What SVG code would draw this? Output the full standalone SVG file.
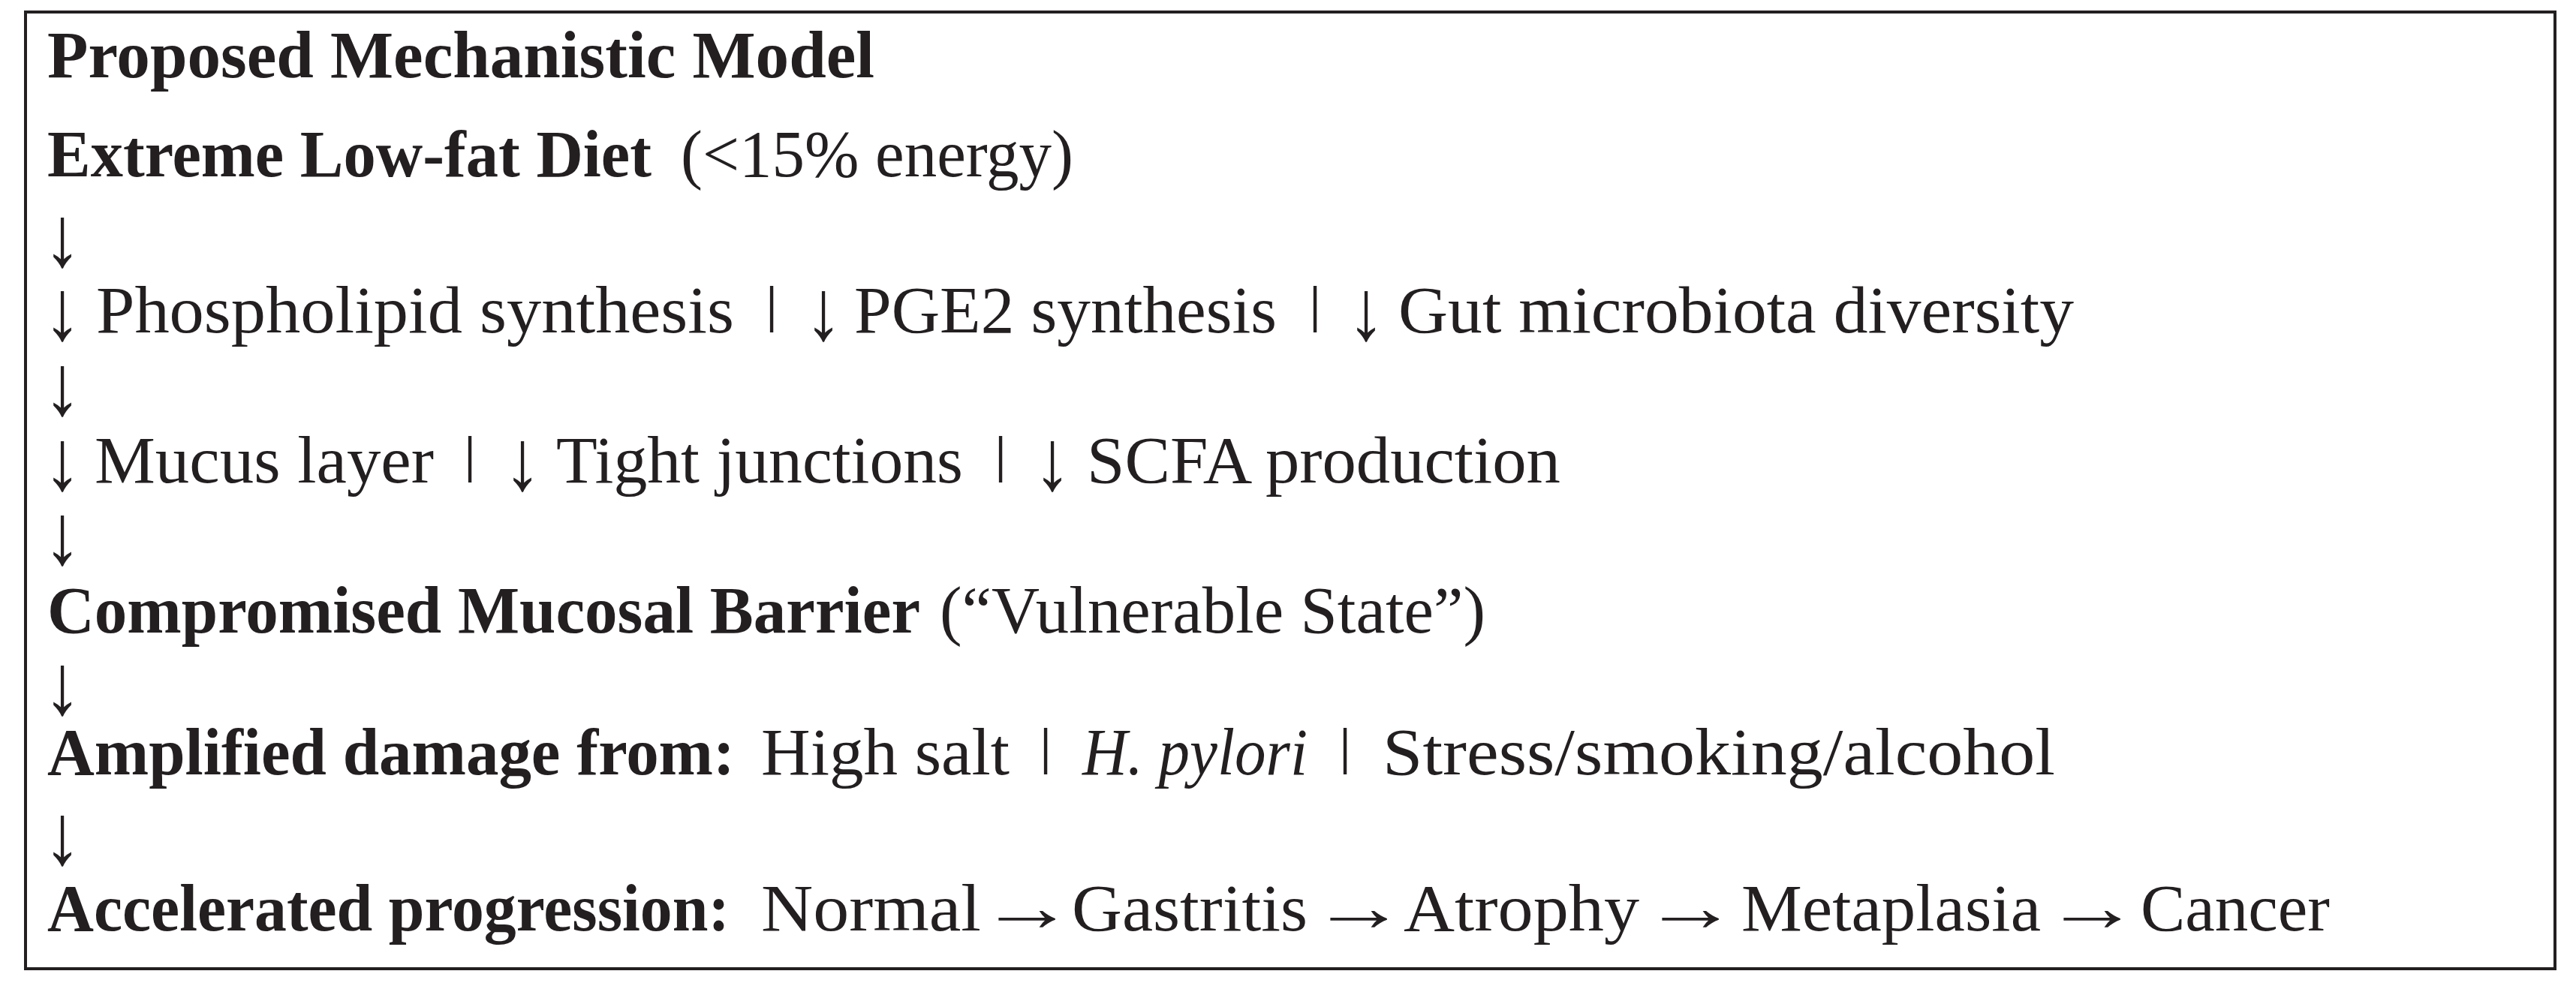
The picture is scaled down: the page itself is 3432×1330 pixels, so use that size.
<svg xmlns="http://www.w3.org/2000/svg" width="3432" height="1330" viewBox="0 0 3432 1330">
<style>
text{font-family:"Liberation Serif","Times New Roman",serif;font-size:88px;fill:#231f20}
.b{font-weight:bold}
.i{font-style:italic}
.s{text-anchor:middle}
</style>
<rect x="0" y="0" width="3432" height="1330" fill="#ffffff"/>
<rect id="frame" x="34" y="16" width="3370" height="1275" fill="none" stroke="#231f20" stroke-width="4"/>
<g id="title"><text class="b" x="63" y="103" textLength="1102" lengthAdjust="spacingAndGlyphs">Proposed Mechanistic Model</text></g>
<g id="diet">
<text class="b" x="63" y="235" textLength="805" lengthAdjust="spacingAndGlyphs">Extreme Low-fat Diet</text>
<text x="907" y="235" textLength="523" lengthAdjust="spacingAndGlyphs">(&lt;15% energy)</text>
</g>
<g id="synthesis">
<text class="s" transform="translate(83,452) scale(1.15,1.3)">↓</text>
<text x="128" y="443" textLength="850" lengthAdjust="spacingAndGlyphs">Phospholipid synthesis</text>
<text class="s" transform="translate(1028,429) scale(1,0.76)">|</text>
<text class="s" transform="translate(1097,452) scale(1.15,1.3)">↓</text>
<text x="1138" y="443" textLength="563" lengthAdjust="spacingAndGlyphs">PGE2 synthesis</text>
<text class="s" transform="translate(1752,429) scale(1,0.76)">|</text>
<text class="s" transform="translate(1820,452) scale(1.15,1.3)">↓</text>
<text x="1863" y="443" textLength="900" lengthAdjust="spacingAndGlyphs">Gut microbiota diversity</text>
</g>
<g id="barrier-parts">
<text class="s" transform="translate(83,652) scale(1.15,1.3)">↓</text>
<text x="126" y="643" textLength="452" lengthAdjust="spacingAndGlyphs">Mucus layer</text>
<text class="s" transform="translate(626,629) scale(1,0.76)">|</text>
<text class="s" transform="translate(696,652) scale(1.15,1.3)">↓</text>
<text x="741" y="643" textLength="542" lengthAdjust="spacingAndGlyphs">Tight junctions</text>
<text class="s" transform="translate(1333,629) scale(1,0.76)">|</text>
<text class="s" transform="translate(1402,652) scale(1.15,1.3)">↓</text>
<text x="1448" y="643" textLength="631" lengthAdjust="spacingAndGlyphs">SCFA production</text>
</g>
<g id="compromised">
<text class="b" x="63" y="843" textLength="1163" lengthAdjust="spacingAndGlyphs">Compromised Mucosal Barrier</text>
<text x="1252" y="843" textLength="727" lengthAdjust="spacingAndGlyphs">(“Vulnerable State”)</text>
</g>
<g id="amplified">
<text class="b" x="63" y="1032" textLength="916" lengthAdjust="spacingAndGlyphs">Amplified damage from:</text>
<text x="1014" y="1032" textLength="331" lengthAdjust="spacingAndGlyphs">High salt</text>
<text class="s" transform="translate(1393,1018) scale(1,0.76)">|</text>
<text class="i" x="1442" y="1032" textLength="300" lengthAdjust="spacingAndGlyphs">H. pylori</text>
<text class="s" transform="translate(1792,1018) scale(1,0.76)">|</text>
<text x="1842" y="1032" textLength="896" lengthAdjust="spacingAndGlyphs">Stress/smoking/alcohol</text>
</g>
<g id="progression">
<text class="b" x="63" y="1240" textLength="909" lengthAdjust="spacingAndGlyphs">Accelerated progression:</text>
<text x="1014" y="1240" textLength="293" lengthAdjust="spacingAndGlyphs">Normal</text>
<text class="s" transform="translate(1368,1240) scale(1.45,1.05)">→</text>
<text x="1428" y="1240" textLength="314" lengthAdjust="spacingAndGlyphs">Gastritis</text>
<text class="s" transform="translate(1810,1240) scale(1.45,1.05)">→</text>
<text x="1870" y="1240" textLength="314" lengthAdjust="spacingAndGlyphs">Atrophy</text>
<text class="s" transform="translate(2252,1240) scale(1.45,1.05)">→</text>
<text x="2320" y="1240" textLength="399" lengthAdjust="spacingAndGlyphs">Metaplasia</text>
<text class="s" transform="translate(2787,1240) scale(1.45,1.05)">→</text>
<text x="2852" y="1240" textLength="252" lengthAdjust="spacingAndGlyphs">Cancer</text>
</g>
<g id="connectors">
<text class="s" transform="translate(83,354) scale(1.15,1.3)">↓</text>
<text class="s" transform="translate(83,552) scale(1.15,1.3)">↓</text>
<text class="s" transform="translate(83,751) scale(1.15,1.3)">↓</text>
<text class="s" transform="translate(83,951) scale(1.15,1.3)">↓</text>
<text class="s" transform="translate(83,1151) scale(1.15,1.3)">↓</text>
</g>
</svg>
